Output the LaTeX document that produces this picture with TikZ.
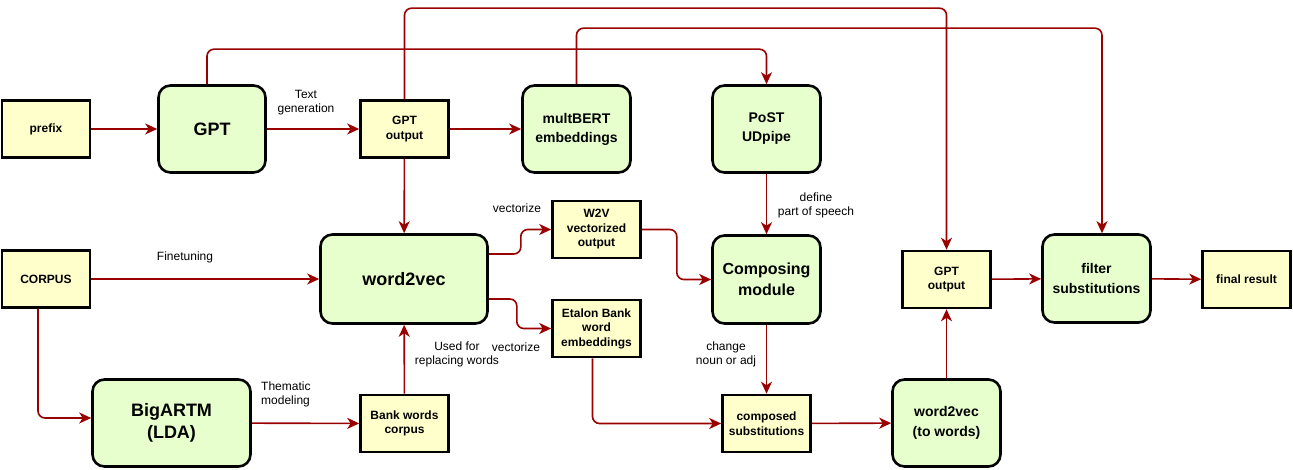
\documentclass[tikz,border=0pt]{standalone}
\usepackage{fontspec}
\setmainfont{Liberation Sans}
\usetikzlibrary{arrows.meta}
\definecolor{boxgreen}{HTML}{E6FFCC}
\definecolor{boxyellow}{HTML}{FFFFCC}
\definecolor{arrowred}{HTML}{990000}
\begin{document}
\begin{tikzpicture}[x=1pt,y=-1pt,
  gbox/.style={draw=black, line width=2.6pt, fill=boxgreen, rounded corners=12pt, align=center, inner sep=0pt},
  ybox/.style={draw=black, line width=2.6pt, fill=boxyellow, align=center, inner sep=0pt,
    minimum width=88pt, minimum height=57pt, font=\fontsize{12}{14.5}\selectfont\bfseries},
  conn/.style={draw=arrowred, line width=1.6pt, rounded corners=7pt,
    -{Stealth[length=12pt,width=11pt,inset=3.5pt]}},
  lbl/.style={align=center, inner sep=0pt, font=\fontsize{12}{14}\selectfont}
]
\useasboundingbox (0,0) rectangle (1293,470);

% yellow boxes
\node[ybox] (prefix) at (46,129) {prefix};
\node[ybox] (gptout1) at (404.5,129) {GPT\\output};
\node[ybox] (corpus) at (46,279) {CORPUS};
\node[ybox] (bank) at (404.5,423.5) {Bank words\\corpus};
\node[ybox] (w2vout) at (596.5,229.5) {W2V\\vectorized\\output};
\node[ybox] (etalon) at (596.5,328.5) {Etalon Bank\\word\\embeddings};
\node[ybox] (compsub) at (766.5,423.5) {composed\\substitutions};
\node[ybox] (gptout2) at (946.5,279.5) {GPT\\output};
\node[ybox] (final) at (1246.5,279.5) {final result};

% green boxes
\node[gbox, minimum width=107pt, minimum height=87pt, font=\fontsize{18}{22}\selectfont\bfseries] (gpt) at (212,129) {GPT};
\node[gbox, minimum width=108pt, minimum height=87pt, font=\fontsize{14}{19}\selectfont\bfseries] (mbert) at (576.5,129) {multBERT\\embeddings};
\node[gbox, minimum width=108pt, minimum height=87pt, font=\fontsize{14}{19}\selectfont\bfseries] (post) at (766.5,129) {PoST\\UDpipe};
\node[gbox, minimum width=167pt, minimum height=89pt, font=\fontsize{18}{22}\selectfont\bfseries] (w2v) at (404,279) {word2vec};
\node[gbox, minimum width=158pt, minimum height=87pt, font=\fontsize{18}{22}\selectfont\bfseries] (bigartm) at (171.5,423) {BigARTM\\(LDA)};
\node[gbox, minimum width=108pt, minimum height=88pt, font=\fontsize{16}{21}\selectfont\bfseries] (comp) at (766.5,279.5) {Composing\\module};
\node[gbox, minimum width=108pt, minimum height=87pt, font=\fontsize{14}{20}\selectfont\bfseries] (w2vtw) at (946.5,423) {word2vec\\(to words)};
\node[gbox, minimum width=108pt, minimum height=88pt, font=\fontsize{14}{20}\selectfont\bfseries] (filter) at (1096.5,278.5) {filter\\substitutions};

% connectors
\draw[conn] (prefix) -- (gpt);
\draw[conn] (gpt) -- (gptout1);
\draw[conn] (gptout1) -- (mbert);
\draw[conn] (gptout1) -- (w2v);
\draw[conn] ([xshift=-5pt]gpt.north) -- ++(0,-35) -| (post.north);
\draw[conn] (gptout1.north) -- ++(0,-91) -| (gptout2.north);
\draw[conn] (mbert.north) -- ++(0,-56) -| ([xshift=5.5pt]filter.north);
\draw[conn] (post) -- (comp);
\draw[conn] (corpus) -- (w2v);
\draw[conn] ([xshift=-8pt]corpus.south) |- ([yshift=5pt]bigartm.west);
\draw[conn] (bigartm) -- (bank);
\draw[conn] (bank) -- (w2v);
\draw[conn] ([yshift=25pt]w2v.east) -- ++(32,0) |- (w2vout.west);
\draw[conn] ([yshift=-20pt]w2v.east) -- ++(28,0) |- (etalon.west);
\draw[conn] (w2vout.east) -- ++(35,0) |- (comp.west);
\draw[conn] ([xshift=-4pt]etalon.south) |- (compsub.west);
\draw[conn] (comp) -- (compsub);
\draw[conn] (compsub) -- (w2vtw);
\draw[conn] (w2vtw) -- (gptout2);
\draw[conn] (gptout2) -- (filter);
\draw[conn] (filter) -- (final);

% labels
\node[lbl] (l1) at (306,103) {Text\\generation};
\node[lbl] (l2) at (185,257) {Finetuning};
\node[lbl, align=left, anchor=west] (l3) at (261,394) {Thematic\\modeling};
\node[lbl] (l4) at (457,354) {Used for\\replacing words};
\node[lbl] (l5) at (516,347) {vectorize};
\node[lbl] (l6) at (517,208) {vectorize};
\node[lbl] (l7) at (816,205) {define\\part of speech};
\node[lbl] (l8) at (726,354) {change\\noun or adj};
\end{tikzpicture}
\end{document}
